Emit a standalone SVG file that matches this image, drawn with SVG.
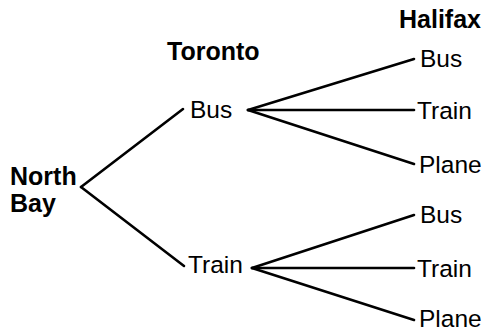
<svg xmlns="http://www.w3.org/2000/svg" width="489" height="331" viewBox="0 0 489 331">
<style>
text{font-family:"Liberation Sans",Arial,sans-serif;fill:#000}
.r{font-size:24.5px}
.b{font-size:25px;font-weight:bold}
.c line{stroke:#000;stroke-width:2.6;stroke-linecap:round}
</style>
<rect width="489" height="331" fill="#fff"/>
<g class="c" id="connectors">
<line x1="81" y1="187" x2="183" y2="109"/>
<line x1="81" y1="187" x2="184" y2="266"/>
<line x1="248" y1="110" x2="414" y2="59"/>
<line x1="248" y1="110" x2="414" y2="110"/>
<line x1="248" y1="110" x2="414" y2="164"/>
<line x1="252" y1="268" x2="414" y2="215"/>
<line x1="252" y1="268" x2="414" y2="268"/>
<line x1="252" y1="268" x2="414" y2="320"/>
</g>
<g id="hdr-toronto"><text class="b" x="167" y="60">Toronto</text></g>
<g id="hdr-halifax"><text class="b" x="399" y="28">Halifax</text></g>
<g id="northbay"><text class="b" x="10" y="185">North</text><text class="b" x="10" y="212">Bay</text></g>
<g id="t-bus"><text class="r" x="190" y="118">Bus</text></g>
<g id="t-train"><text class="r" x="188" y="273">Train</text></g>
<g id="h1-bus"><text class="r" x="420" y="67">Bus</text></g>
<g id="h1-train"><text class="r" x="417" y="119">Train</text></g>
<g id="h1-plane"><text class="r" x="419" y="173">Plane</text></g>
<g id="h2-bus"><text class="r" x="420" y="223">Bus</text></g>
<g id="h2-train"><text class="r" x="417" y="277">Train</text></g>
<g id="h2-plane"><text class="r" x="419" y="327">Plane</text></g>
</svg>
